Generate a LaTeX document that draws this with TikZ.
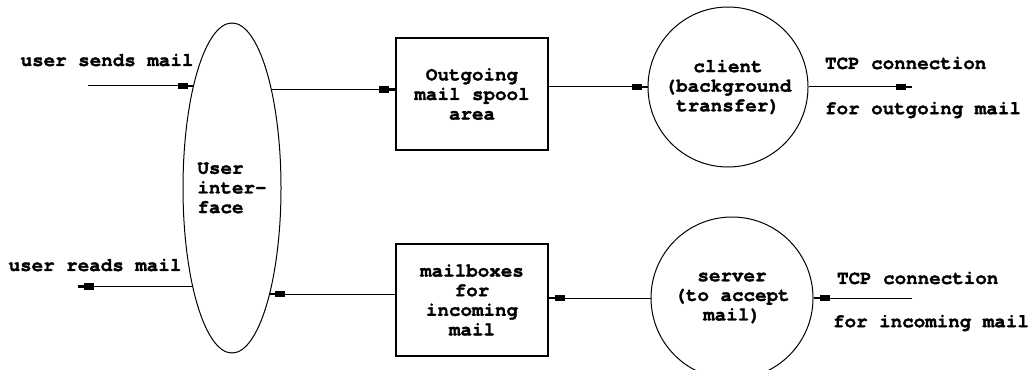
\documentclass[tikz,border=0pt]{standalone}
\usepackage{fontspec}
\setmainfont{TeX Gyre Cursor}[BoldFeatures={FakeBold=1.6}]
\usetikzlibrary{arrows.meta,shapes.geometric}
\tikzstyle{every node}=[font=\fontsize{9.6}{9.8}\selectfont\bfseries]
\tikzstyle{flow}=[line width=0.5pt,-{Rectangle[length=5pt,width=3.2pt]Rectangle[length=3pt,width=1.4pt]}]
\tikzstyle{store}=[draw,line width=0.6pt,minimum width=76pt,minimum height=56pt,align=center,inner sep=0pt]
\tikzstyle{proc}=[draw,circle,line width=0.5pt,minimum size=80pt,align=center,inner sep=0pt]

\begin{document}
\begin{tikzpicture}[x=0.5pt,y=-0.5pt]
            \useasboundingbox (0,0) rectangle (1031,369);
            \node[draw,ellipse,line width=0.5pt,minimum width=49pt,minimum height=165pt,align=left,inner sep=0pt] (ui) at (232,188) {User\\inter-\\face};
            \node[store] (spool) at (472,94) {Outgoing\\mail spool\\area};
            \node[store] (mbox) at (472,300) {mailboxes\\for\\incoming\\mail};
            \node[proc] (client) at (728,87) {client\\(background\\transfer)};
            \node[proc,minimum size=81pt] (server) at (732,298) {server\\(to accept\\mail)};
            % outside labels
            \node (sends) at (107,60) {user sends mail};
            \node (reads) at (95,265) {user reads mail};
            \node[anchor=west] (tcpo) at (818,63) {TCP connection};
            \node[anchor=west] (outm) at (818,110) {for outgoing mail};
            \node[anchor=west] (tcpi) at (830,278) {TCP connection};
            \node[anchor=west] (inm) at (826,323) {for incoming mail};
            % free ends
            \coordinate (sendsin) at (88,86);
            \coordinate (readsout) at (78,287);
            \coordinate (tcpout) at (912,87);
            \coordinate (tcpin) at (912,298);
            % outgoing path
            \draw[flow] (sendsin) -- (sendsin -| ui.110.7);
            \draw[flow] (ui.68.4) -- (ui.68.4 -| spool.west);
            \draw[flow] (client.west -| spool.east) -- (client.west);
            \draw[flow] (client.east) -- (tcpout);
            % incoming path
            \draw[flow] (tcpin) -- (server.east);
            \draw[flow] (server.west) -- (server.west -| mbox.east);
            \draw[flow] ([yshift=3pt]mbox.west) -- ([yshift=3pt]mbox.west -| ui.-71.5);
            \draw[flow] (ui.248.4) -- (readsout |- ui.248.4);
        \end{tikzpicture}
\end{document}
